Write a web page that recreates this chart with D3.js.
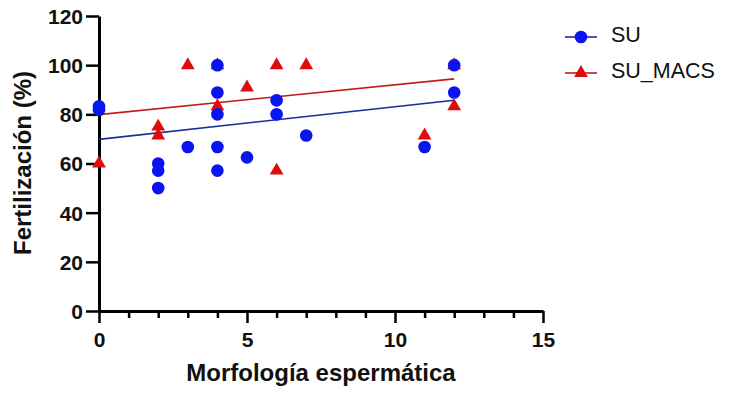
<!DOCTYPE html>
<html>
<head>
<meta charset="utf-8">
<script src="https://cdn.jsdelivr.net/npm/d3@7"></script>
<style>
  html, body { margin: 0; padding: 0; background: #fff; }
  svg { display: block; }
  text { font-family: "Liberation Sans", Arial, Helvetica, sans-serif; }
</style>
</head>
<body>
<svg id="chart" width="732" height="393"></svg>
<script>
// ---- data ----
const suX = [0, 0, 2, 2, 2, 3, 4, 4, 4, 4, 4, 5, 6, 6, 7, 11, 12, 12];
const suY = [83.3, 81.8, 60, 57.1, 50, 66.7, 100, 88.9, 80, 66.7, 57.1, 62.5, 85.7, 80, 71.4, 66.7, 100, 88.9];
const macsX = [0, 2, 2, 3, 4, 4, 5, 6, 6, 7, 11, 12, 12];
const macsY = [60, 75, 71.4, 100, 100, 83.3, 90.9, 100, 57.1, 100, 71.4, 100, 83.3];
// fitted lines (intercept, slope), spanning x 0..12
const fitSU = { intercept: 69.8, slope: 1.33, x0: 0, x1: 12 };
const fitMACS = { intercept: 79.9, slope: 1.21, x0: 0, x1: 12 };
const xMajorTicks = [0, 5, 10, 15];
const xMinorTicks = [1, 2, 3, 4, 6, 7, 8, 9, 11, 12, 13, 14];
const yTicks = [0, 20, 40, 60, 80, 100, 120];
const seriesNames = ["SU", "SU_MACS"];

const blue = "#0a14f0", blueLine = "#1c2a9a";
const red = "#e00b0b", redLine = "#c41a1a";

const svg = d3.select("#chart");
const x = d3.scaleLinear().domain([0, 15]).range([99, 543]);
const y = d3.scaleLinear().domain([0, 120]).range([311, 16]);

// Y axis
const gy = svg.append("g").attr("transform", `translate(${x(0)},0)`)
  .call(d3.axisLeft(y).tickValues(yTicks).tickSize(13).tickSizeOuter(0).tickPadding(3));
gy.select(".domain").attr("stroke", "#000").attr("stroke-width", 3);
gy.selectAll(".tick line").attr("stroke", "#000").attr("stroke-width", 2.5);
gy.selectAll(".tick text").attr("font-size", 21).style("font-weight", "bold").attr("fill", "#111").attr("dy", "0.35em");

// X axis major
const gx = svg.append("g").attr("transform", `translate(0,${y(0)})`)
  .call(d3.axisBottom(x).tickValues(xMajorTicks).tickSize(12).tickSizeOuter(0).tickPadding(9));
gx.select(".domain").attr("stroke", "#000").attr("stroke-width", 3);
gx.selectAll(".tick line").attr("stroke", "#000").attr("stroke-width", 2.5);
gx.selectAll(".tick text").attr("font-size", 21).style("font-weight", "bold").attr("fill", "#111");
// X axis minor
const gxm = svg.append("g").attr("transform", `translate(0,${y(0)})`)
  .call(d3.axisBottom(x).tickValues(xMinorTicks).tickSize(7).tickFormat(""));
gxm.select(".domain").remove();
gxm.selectAll(".tick line").attr("stroke", "#000").attr("stroke-width", 2.5);

// Axis titles
svg.append("text").attr("x", 321).attr("y", 381)
  .attr("text-anchor", "middle").attr("font-size", 24).style("font-weight", "bold").attr("fill", "#111")
  .text("Morfología espermática");
svg.append("text").attr("transform", `translate(31,163) rotate(-90)`)
  .attr("text-anchor", "middle").attr("font-size", 24).style("font-weight", "bold").attr("fill", "#111")
  .text("Fertilización (%)");

// Fit lines
function drawFit(f, color) {
  svg.append("line")
    .attr("x1", x(f.x0)).attr("y1", y(f.intercept + f.slope * f.x0))
    .attr("x2", x(f.x1)).attr("y2", y(f.intercept + f.slope * f.x1))
    .attr("stroke", color).attr("stroke-width", 1.6);
}
drawFit(fitMACS, redLine);
drawFit(fitSU, blueLine);

const tri = d3.symbol().type(d3.symbolTriangle).size(82);
const circ = d3.symbol().type(d3.symbolCircle).size(125);

// Points: red triangles first, then blue circles on top
svg.append("g").selectAll("path").data(macsX.map((v, i) => [v, macsY[i]]))
  .join("path").attr("d", tri)
  .attr("transform", d => `translate(${x(d[0])},${y(d[1])})`)
  .attr("fill", red);
svg.append("g").selectAll("path").data(suX.map((v, i) => [v, suY[i]]))
  .join("path").attr("d", circ)
  .attr("transform", d => `translate(${x(d[0])},${y(d[1])})`)
  .attr("fill", blue);

// Legend
const legend = svg.append("g");
const legRows = [
  { name: seriesNames[0], y: 37, line: blueLine, fill: blue, sym: circ },
  { name: seriesNames[1], y: 73, line: redLine, fill: red, sym: tri }
];
legRows.forEach(r => {
  legend.append("line").attr("x1", 565).attr("x2", 597).attr("y1", r.y).attr("y2", r.y)
    .attr("stroke", r.line).attr("stroke-width", 1.6);
  legend.append("path").attr("d", r.sym).attr("transform", `translate(581,${r.y})`).attr("fill", r.fill);
  legend.append("text").attr("x", 611).attr("y", r.y).attr("dy", "0.25em")
    .attr("font-size", 21.5).style("font-weight", "normal").attr("fill", "#111").text(r.name);
});
</script>
</body>
</html>
